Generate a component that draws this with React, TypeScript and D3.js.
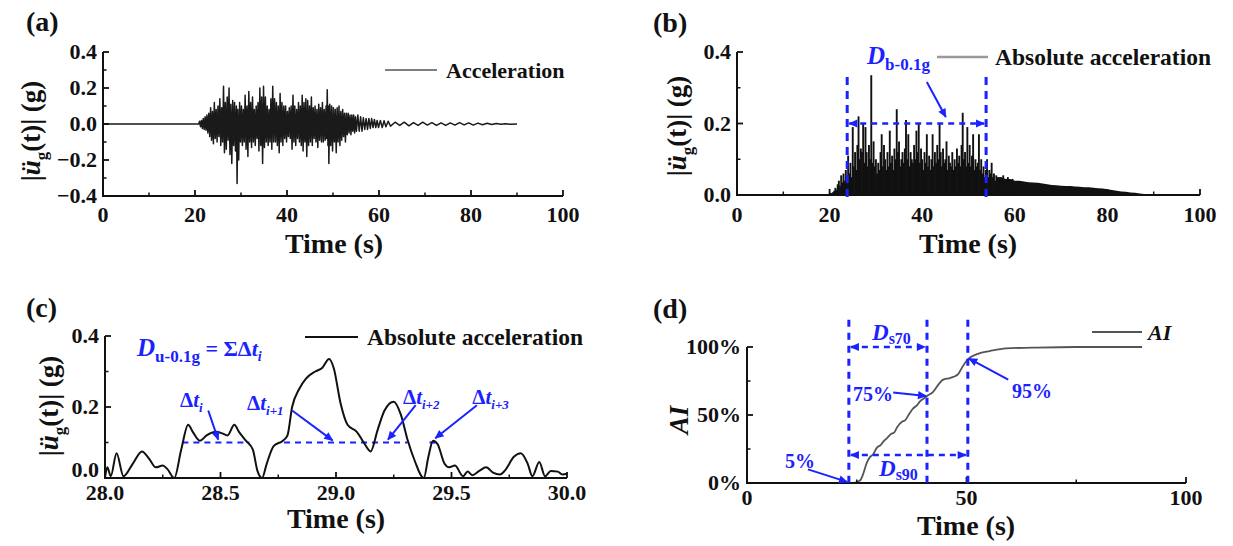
import React from 'react';
import * as d3 from 'd3';

const FONT = '"Liberation Serif", "Times New Roman", serif';
const BLUE = '#1a22ff';
const INK = '#111';

// (a) ground acceleration: successive extrema [time s, acceleration g]
const accelPoints: [number, number][] = [
  [0, 0], [20.8, 0],
  [21.0, 0.015], [21.2, -0.015], [21.4, 0.02], [21.6, -0.025], [21.8, 0.03], [22.0, -0.03], [22.2, 0.04], [22.4, -0.035],
  [22.6, 0.05], [22.8, -0.05], [23.0, 0.06], [23.2, -0.07], [23.4, 0.09], [23.6, -0.09], [23.8, 0.07], [24.0, -0.11],
  [24.2, 0.12], [24.4, -0.08], [24.6, 0.08], [24.8, -0.1], [25.0, 0.1], [25.2, -0.07], [25.4, 0.14], [25.6, -0.12],
  [25.8, 0.09], [26.0, -0.1], [26.2, 0.21], [26.4, -0.16], [26.6, 0.12], [26.8, -0.14], [27.0, 0.15], [27.2, -0.09],
  [27.4, 0.2], [27.6, -0.17], [27.8, 0.11], [28.0, -0.22], [28.2, 0.13], [28.4, -0.12], [28.6, 0.12], [28.8, -0.15],
  [29.0, 0.1], [29.15, -0.33], [29.3, 0.08], [29.5, -0.2], [29.7, 0.12], [29.9, -0.1], [30.1, 0.1], [30.3, -0.12],
  [30.5, 0.08], [30.7, -0.1], [30.9, 0.16], [31.1, -0.14], [31.3, 0.1], [31.5, -0.18], [31.7, 0.18], [31.9, -0.1],
  [32.1, 0.12], [32.3, -0.13], [32.5, 0.15], [32.7, -0.1], [32.9, 0.08], [33.1, -0.12], [33.3, 0.1], [33.5, -0.08],
  [33.7, 0.12], [33.9, -0.15], [34.1, 0.2], [34.3, -0.12], [34.5, 0.15], [34.7, -0.22], [34.9, 0.21], [35.1, -0.13],
  [35.3, 0.15], [35.5, -0.1], [35.7, 0.1], [35.9, -0.12], [36.1, 0.08], [36.3, -0.1], [36.5, 0.14], [36.7, -0.14],
  [36.9, 0.21], [37.1, -0.1], [37.3, 0.14], [37.5, -0.1], [37.7, 0.12], [37.9, -0.12], [38.1, 0.1], [38.3, -0.16],
  [38.5, 0.17], [38.7, -0.1], [38.9, 0.12], [39.1, -0.12], [39.3, 0.1], [39.5, -0.08], [39.7, 0.1], [39.9, -0.1],
  [40.1, 0.07], [40.3, -0.07], [40.5, 0.09], [40.7, -0.08], [40.9, 0.1], [41.1, -0.14], [41.3, 0.16], [41.5, -0.1],
  [41.7, 0.1], [41.9, -0.12], [42.1, 0.08], [42.3, -0.08], [42.5, 0.12], [42.7, -0.1], [42.9, 0.1], [43.1, -0.12],
  [43.3, 0.16], [43.5, -0.15], [43.7, 0.12], [43.9, -0.1], [44.1, 0.14], [44.3, -0.18], [44.5, 0.13], [44.7, -0.12],
  [44.9, 0.1], [45.1, -0.1], [45.3, 0.15], [45.5, -0.12], [45.7, 0.09], [45.9, -0.08], [46.1, 0.1], [46.3, -0.1],
  [46.5, 0.08], [46.7, -0.13], [46.9, 0.11], [47.1, -0.09], [47.3, 0.09], [47.5, -0.1], [47.7, 0.12], [47.9, -0.1],
  [48.1, 0.08], [48.3, -0.09], [48.5, 0.1], [48.6, -0.08], [48.75, 0.19], [48.9, -0.12], [49.0, 0.1], [49.1, -0.22],
  [49.3, 0.11], [49.5, -0.12], [49.7, 0.1], [49.9, -0.15], [50.1, 0.09], [50.3, -0.1], [50.5, 0.08], [50.7, -0.16],
  [50.9, 0.09], [51.1, -0.1], [51.3, 0.1], [51.5, -0.12], [51.7, 0.07], [51.9, -0.09], [52.1, 0.08], [52.3, -0.07],
  [52.5, 0.06], [52.7, -0.1], [52.9, 0.06], [53.1, -0.06], [53.3, 0.06], [53.5, -0.05], [53.7, 0.05], [53.9, -0.06],
  [54.1, 0.05], [54.3, -0.04], [54.5, 0.05], [54.7, -0.05], [54.9, 0.04], [55.1, -0.04], [55.4, 0.05], [55.7, -0.04],
  [56.0, 0.04], [56.3, -0.04], [56.6, 0.035], [56.9, -0.03], [57.2, 0.03], [57.5, -0.03], [57.8, 0.03], [58.1, -0.025],
  [58.4, 0.03], [58.7, -0.02], [59.0, 0.025], [59.3, -0.02], [59.6, 0.02], [59.9, -0.02], [60.3, 0.02], [60.7, -0.02],
  [61.1, 0.018], [61.5, -0.015], [62.0, 0.015], [62.5, -0.012], [63.5, 0.01], [64.5, -0.008], [65.5, 0.01], [66.5, -0.01],
  [67.5, 0.008], [68.5, -0.008], [69.5, 0.01], [70.5, -0.006], [71.5, 0.008], [72.5, -0.008], [73.5, 0.006], [74.5, -0.008],
  [75.5, 0.006], [76.5, -0.006], [77.5, 0.008], [78.5, -0.005], [79.5, 0.006], [80.5, -0.006], [81.5, 0.005], [82.5, -0.004],
  [83.5, 0.004], [84.5, -0.003], [85.5, 0.003], [86.5, -0.002], [87.5, 0.002], [88.5, -0.001], [90, 0],
];

// (b) absolute acceleration, strong phase sampled every 0.25 s from 20 s
const absStart = 20;
const absStep = 0.25;
const absStrong = [
  0.004, 0.006, 0.005, 0.008, 0.012, 0.02, 0.015, 0.03,
  0.04, 0.025, 0.055, 0.035, 0.06, 0.04, 0.07, 0.05,
  0.11, 0.06, 0.09, 0.05, 0.19, 0.08, 0.12, 0.07,
  0.14, 0.22, 0.1, 0.13, 0.12, 0.2, 0.09, 0.19,
  0.12, 0.08, 0.14, 0.1, 0.335, 0.09, 0.15, 0.08,
  0.1, 0.06, 0.09, 0.07, 0.12, 0.17, 0.08, 0.14,
  0.1, 0.07, 0.12, 0.08, 0.18, 0.09, 0.11, 0.07,
  0.13, 0.1, 0.24, 0.12, 0.15, 0.08, 0.1, 0.12,
  0.09, 0.13, 0.21, 0.1, 0.17, 0.08, 0.12, 0.1,
  0.09, 0.14, 0.1, 0.18, 0.12, 0.2, 0.09, 0.13,
  0.1, 0.07, 0.12, 0.09, 0.17, 0.08, 0.11, 0.07,
  0.1, 0.17, 0.08, 0.12, 0.09, 0.14, 0.1, 0.2,
  0.12, 0.08, 0.13, 0.09, 0.1, 0.15, 0.07, 0.11,
  0.09, 0.08, 0.12, 0.07, 0.1, 0.08, 0.13, 0.09,
  0.11, 0.08, 0.14, 0.23, 0.1, 0.12, 0.08, 0.19,
  0.09, 0.14, 0.08, 0.11, 0.17, 0.07, 0.1, 0.08,
  0.09, 0.17, 0.07, 0.1, 0.06, 0.08, 0.05, 0.07,
  0.1, 0.05, 0.07, 0.06, 0.09, 0.05, 0.06, 0.04,
  0.055, 0.04, 0.05, 0.035, 0.05, 0.03, 0.055, 0.04,
  0.045, 0.03, 0.05, 0.035, 0.04, 0.03, 0.045, 0.03,
];
// (b) coda envelope, one value per second from 56 s
const absTailStart = 56;
const absTail = [
  0.05, 0.05, 0.045, 0.045, 0.04, 0.04, 0.038, 0.036, 0.035, 0.034,
  0.032, 0.03, 0.028, 0.027, 0.026, 0.025, 0.025, 0.024, 0.023, 0.022,
  0.022, 0.02, 0.019, 0.018, 0.016, 0.014, 0.012, 0.01, 0.009, 0.007,
  0.006, 0.004, 0.003, 0.002, 0.0,
];
// (b) bracketed duration bounds (s) and threshold (g)
const bracketStart = 23.8;
const bracketEnd = 53.8;
const bracketLevel = 0.2;

// (c) absolute acceleration, 28-30 s
const zoomPoints: [number, number][] = [
  [28.0, 0.0], [28.01, 0.03], [28.025, 0.005], [28.05, 0.07], [28.08, 0.005], [28.12, 0.04], [28.16, 0.075],
  [28.19, 0.055], [28.22, 0.03], [28.25, 0.035], [28.27, 0.025], [28.3, 0.0], [28.33, 0.08], [28.36, 0.15],
  [28.38, 0.13], [28.41, 0.105], [28.44, 0.12], [28.48, 0.13], [28.51, 0.125], [28.53, 0.12], [28.56, 0.15],
  [28.58, 0.13], [28.61, 0.105], [28.64, 0.08], [28.66, 0.02], [28.68, 0.0], [28.7, 0.04], [28.73, 0.09],
  [28.77, 0.105], [28.79, 0.12], [28.81, 0.2], [28.84, 0.25], [28.87, 0.28], [28.91, 0.3], [28.94, 0.31],
  [28.97, 0.335], [28.99, 0.31], [29.02, 0.21], [29.05, 0.15], [29.09, 0.13], [29.12, 0.1], [29.15, 0.075],
  [29.18, 0.135], [29.21, 0.19], [29.25, 0.215], [29.28, 0.18], [29.31, 0.107], [29.34, 0.05], [29.38, 0.0],
  [29.4, 0.06], [29.42, 0.105], [29.44, 0.095], [29.47, 0.04], [29.49, 0.03], [29.515, 0.035], [29.55, 0.005],
  [29.57, 0.018], [29.59, 0.008], [29.62, 0.02], [29.65, 0.03], [29.68, 0.015], [29.71, 0.01], [29.73, 0.02],
  [29.77, 0.06], [29.8, 0.07], [29.83, 0.04], [29.85, 0.005], [29.88, 0.045], [29.905, 0.005], [29.93, 0.02],
  [29.96, 0.018], [29.98, 0.01], [30.0, 0.012],
];
// (c) exceedance intervals above 0.1 g [from, to]
const exceedLevel = 0.1;
const exceedSpans: [number, number][] = [[28.335, 28.625], [28.775, 29.31], [29.405, 29.44]];
// (c) interval callouts: label position, arrow tail, arrow tip (t, g) and subscript
const intervalNotes = [
  { sub: 'i', label: [28.325, 0.2], from: [28.447, 0.19], to: [28.49, 0.108] },
  { sub: 'i+1', label: [28.615, 0.192], from: [28.81, 0.19], to: [28.985, 0.106] },
  { sub: 'i+2', label: [29.29, 0.208], from: [29.345, 0.205], to: [29.225, 0.108] },
  { sub: 'i+3', label: [29.59, 0.208], from: [29.61, 0.205], to: [29.43, 0.112] },
];

// (d) Arias intensity, normalised [time s, AI]
const ariasPoints: [number, number][] = [
  [0, 0], [24.2, 0], [25.8, 0.02], [26.5, 0.07], [27.3, 0.15], [28.0, 0.19], [28.7, 0.21], [29.6, 0.26],
  [30.5, 0.28], [31.2, 0.31], [31.9, 0.33], [32.8, 0.36], [33.5, 0.37], [34.2, 0.41], [35.3, 0.45],
  [36.0, 0.46], [36.8, 0.5], [37.9, 0.55], [38.7, 0.57], [39.4, 0.6], [40.2, 0.62], [41.0, 0.64],
  [42.4, 0.67], [43.5, 0.72], [44.7, 0.76], [46.0, 0.77], [47.0, 0.78], [48.1, 0.8], [49.0, 0.85],
  [50.3, 0.91], [52.6, 0.95], [55.3, 0.97], [59.0, 0.99], [65.0, 0.995], [75.0, 1.0], [90.0, 1.0],
];
// (d) significant-duration bounds (s)
const t05 = 23.2;
const t75 = 41.0;
const t95 = 50.3;

// tick values
const ticks100 = [0, 20, 40, 60, 80, 100];
const minor100 = [10, 30, 50, 70, 90];
const ticksA = [-0.4, -0.2, 0.0, 0.2, 0.4];
const minorA = [-0.3, -0.1, 0.1, 0.3];
const ticksB = [0.0, 0.2, 0.4];
const minorB = [0.1, 0.3];
const ticksCx = [28.0, 28.5, 29.0, 29.5, 30.0];
const minorCx = [28.25, 28.75, 29.25, 29.75];
const ticksDx = [0, 50, 100];
const minorDx = [25, 75];
const ticksDy = [0, 0.5, 1];
const minorDy = [0.25, 0.75];

type Sc = d3.ScaleLinear<number, number>;

interface AxesProps {
  x: Sc; y: Sc;
  xMajor: number[]; xMinor: number[];
  yMajor: number[]; yMinor: number[];
  xFmt: (v: number) => string; yFmt: (v: number) => string;
  xLabelDy: number;
  baseLift?: number;
}

function Axes({ x, y, xMajor, xMinor, yMajor, yMinor, xFmt, yFmt, xLabelDy, baseLift = 0 }: AxesProps) {
  const [x0, x1] = x.range();
  const [yb, yt] = y.range();
  return (
    <g>
      <path d={`M${x0},${yt}V${yb}H${x1}`} fill="none" stroke={INK} strokeWidth={2} />
      {xMajor.map((t) => (
        <line key={'xm' + t} x1={x(t)} x2={x(t)} y1={yb} y2={yb - 6} stroke={INK} strokeWidth={1.8} />
      ))}
      {xMinor.map((t) => (
        <line key={'xn' + t} x1={x(t)} x2={x(t)} y1={yb} y2={yb - 3.5} stroke={INK} strokeWidth={1.5} />
      ))}
      {yMajor.map((v) => (
        <line key={'ym' + v} x1={x0} x2={x0 + 6} y1={y(v)} y2={y(v)} stroke={INK} strokeWidth={1.8} />
      ))}
      {yMinor.map((v) => (
        <line key={'yn' + v} x1={x0} x2={x0 + 3.5} y1={y(v)} y2={y(v)} stroke={INK} strokeWidth={1.5} />
      ))}
      {xMajor.map((t) => (
        <text key={'xl' + t} x={x(t)} y={yb + xLabelDy} textAnchor="middle" fontSize={22} fontWeight="bold" fill={INK}>
          {xFmt(t)}
        </text>
      ))}
      {yMajor.map((v, i) => (
        <text key={'yl' + v} x={x0 - 6} y={y(v) - (i === 0 ? baseLift : 0)} dy="0.33em" textAnchor="end"
          fontSize={22} fontWeight="bold" fill={INK}>
          {yFmt(v)}
        </text>
      ))}
    </g>
  );
}

function AccelTitle({ cx, cy }: { cx: number; cy: number }) {
  return (
    <text transform={`translate(${cx},${cy}) rotate(-90)`} textAnchor="middle" dy="0.35em" fontSize={27} fontWeight="bold" fill={INK}>
      |<tspan fontStyle="italic">ü</tspan>
      <tspan fontSize={17} dy={7}>g</tspan>
      <tspan dy={-7}>(t)| (g)</tspan>
    </text>
  );
}

function TimeTitle({ x, y }: { x: number; y: number }) {
  return (
    <text x={x} y={y} textAnchor="middle" fontSize={28} fontWeight="bold" fill={INK}>
      Time (s)
    </text>
  );
}

function PanelTag({ x, y, tag }: { x: number; y: number; tag: string }) {
  return (
    <text x={x} y={y} fontSize={28} fontWeight="bold" fill={INK}>
      ({tag})
    </text>
  );
}

const f1 = d3.format('.1f');

export default function App() {
  // scales for the four panels
  const xA = d3.scaleLinear().domain([0, 100]).range([103, 563]);
  const yA = d3.scaleLinear().domain([-0.4, 0.4]).range([196, 52]);
  const xB = d3.scaleLinear().domain([0, 100]).range([737, 1200]);
  const yB = d3.scaleLinear().domain([0, 0.4]).range([195, 52]);
  const xC = d3.scaleLinear().domain([28, 30]).range([105, 567]);
  const yC = d3.scaleLinear().domain([0, 0.4]).range([478, 336]);
  const xD = d3.scaleLinear().domain([0, 100]).range([747, 1186]);
  const yD = d3.scaleLinear().domain([0, 1]).range([483, 347]);

  const lineA = d3.line<[number, number]>().x((d) => xA(d[0])).y((d) => yA(d[1]));
  const lineC = d3.line<[number, number]>().x((d) => xC(d[0])).y((d) => yC(d[1])).curve(d3.curveMonotoneX);
  const lineD = d3.line<[number, number]>().x((d) => xD(d[0])).y((d) => yD(d[1])).curve(d3.curveMonotoneX);
  const tailArea = d3
    .area<number>()
    .x((_, i) => xB(absTailStart + i))
    .y0(yB(0))
    .y1((v) => yB(v));

  const dash = { stroke: BLUE, strokeWidth: 2.6, strokeDasharray: '6 5', fill: 'none' };
  const solid = { stroke: BLUE, strokeWidth: 2, fill: 'none' };

  return (
    <svg
      width={1233}
      height={546}
      viewBox="0 0 1233 546"
      style={{ position: 'absolute', left: 0, top: 0, background: '#fff', fontFamily: FONT }}
    >
      <defs>
        <marker id="tip" viewBox="0 0 10 10" refX="9" refY="5" markerWidth="10" markerHeight="9"
          markerUnits="userSpaceOnUse" orient="auto-start-reverse">
          <path d="M0,0.5 L10,5 L0,9.5 z" fill={BLUE} />
        </marker>
      </defs>

      {/* (a) ground acceleration */}
      <PanelTag x={26} y={31} tag="a" />
      <path d={lineA(accelPoints) ?? ''} fill="none" stroke="#1a1a1a" strokeWidth={1.5} strokeLinejoin="round" />
      <Axes x={xA} y={yA} xMajor={ticks100} xMinor={minor100} yMajor={ticksA} yMinor={minorA}
        xFmt={(v) => String(v)} yFmt={f1} xLabelDy={26} />
      <AccelTitle cx={31} cy={131} />
      <TimeTitle x={334} y={253} />
      <line x1={385} x2={437} y1={70} y2={70} stroke="#555" strokeWidth={1.5} />
      <text x={446} y={78} fontSize={22} fontWeight="bold" fill={INK}>Acceleration</text>

      {/* (b) absolute acceleration with bracketed duration */}
      <PanelTag x={653} y={32} tag="b" />
      <path d={tailArea(absTail) ?? ''} fill={INK} />
      {absStrong.map((v, i) => {
        const x = xB(absStart + i * absStep);
        return <line key={i} x1={x} x2={x} y1={yB(0)} y2={yB(v)} stroke={INK} strokeWidth={1.9} />;
      })}
      <Axes x={xB} y={yB} xMajor={ticks100} xMinor={minor100} yMajor={ticksB} yMinor={minorB}
        xFmt={(v) => String(v)} yFmt={f1} xLabelDy={27} />
      <AccelTitle cx={677} cy={126} />
      <TimeTitle x={968} y={253} />
      <line x1={xB(bracketStart)} x2={xB(bracketStart)} y1={yB(0.33)} y2={yB(-0.015)} {...dash} strokeWidth={3} strokeDasharray="8 6" />
      <line x1={xB(bracketEnd)} x2={xB(bracketEnd)} y1={yB(0.33)} y2={yB(-0.015)} {...dash} strokeWidth={3} strokeDasharray="8 6" />
      <line x1={xB(bracketStart) + 2} x2={xB(bracketEnd) - 2} y1={yB(bracketLevel)} y2={yB(bracketLevel)}
        {...dash} markerStart="url(#tip)" markerEnd="url(#tip)" />
      <line x1={xB(41.0)} y1={yB(0.316)} x2={xB(45.1)} y2={yB(0.218)} {...solid} markerEnd="url(#tip)" />
      <text x={867} y={64} fill={BLUE} fontWeight="bold">
        <tspan fontSize={25} fontStyle="italic">D</tspan>
        <tspan fontSize={17} dy={6}>b-0.1g</tspan>
      </text>
      <line x1={937} x2={988} y1={57} y2={57} stroke="#999" strokeWidth={2.5} />
      <text x={995} y={65} fontSize={23.5} fontWeight="bold" fill={INK}>Absolute acceleration</text>

      {/* (c) zoomed window with exceedance intervals */}
      <PanelTag x={26} y={317} tag="c" />
      {exceedSpans.map(([a, b], i) => (
        <line key={i} x1={xC(a)} x2={xC(b)} y1={yC(exceedLevel)} y2={yC(exceedLevel)} {...dash} strokeWidth={2.2} />
      ))}
      <path d={lineC(zoomPoints) ?? ''} fill="none" stroke={INK} strokeWidth={2} />
      <Axes x={xC} y={yC} xMajor={ticksCx} xMinor={minorCx} yMajor={ticksB} yMinor={minorB}
        xFmt={f1} yFmt={f1} xLabelDy={22} baseLift={8} />
      <AccelTitle cx={49} cy={406} />
      <TimeTitle x={336} y={528} />
      {intervalNotes.map((n) => (
        <g key={n.sub}>
          <line x1={xC(n.from[0])} y1={yC(n.from[1])} x2={xC(n.to[0])} y2={yC(n.to[1])} {...solid} markerEnd="url(#tip)" />
          <text x={xC(n.label[0])} y={yC(n.label[1])} fill={BLUE} fontWeight="bold" fontSize={21}>
            Δ<tspan fontStyle="italic">t</tspan>
            <tspan fontSize={13} fontStyle="italic" dy={5}>{n.sub}</tspan>
          </text>
        </g>
      ))}
      <text x={137} y={356} fill={BLUE} fontWeight="bold">
        <tspan fontSize={25} fontStyle="italic">D</tspan>
        <tspan fontSize={17} dy={6}>u-0.1g</tspan>
        <tspan fontSize={22} dy={-6}> = ΣΔ</tspan>
        <tspan fontSize={22} fontStyle="italic">t</tspan>
        <tspan fontSize={14} fontStyle="italic" dy={5}>i</tspan>
      </text>
      <line x1={305} x2={358} y1={337} y2={337} stroke={INK} strokeWidth={2} />
      <text x={367} y={345} fontSize={23.5} fontWeight="bold" fill={INK}>Absolute acceleration</text>

      {/* (d) Arias intensity and significant durations */}
      <PanelTag x={653} y={318} tag="d" />
      <path d={lineD(ariasPoints) ?? ''} fill="none" stroke="#555" strokeWidth={1.8} />
      <Axes x={xD} y={yD} xMajor={ticksDx} xMinor={minorDx} yMajor={ticksDy} yMinor={minorDy}
        xFmt={(v) => String(v)} yFmt={d3.format('.0%')} xLabelDy={22} />
      <text transform="translate(679,420) rotate(-90)" textAnchor="middle" dy="0.35em" fontSize={27}
        fontWeight="bold" fontStyle="italic" fill={INK}>AI</text>
      <TimeTitle x={966} y={535} />
      {[t05, t75, t95].map((t) => (
        <line key={t} x1={xD(t)} x2={xD(t)} y1={yD(1.2)} y2={yD(0)} {...dash} strokeWidth={3} strokeDasharray="7 6" />
      ))}
      <line x1={xD(t05) + 2} x2={xD(t75) - 2} y1={yD(1)} y2={yD(1)} {...dash} markerStart="url(#tip)" markerEnd="url(#tip)" />
      <line x1={xD(t05) + 2} x2={xD(t95) - 2} y1={yD(0.206)} y2={yD(0.206)} {...dash} markerStart="url(#tip)" markerEnd="url(#tip)" />
      <text x={872} y={340} fill={BLUE} fontWeight="bold">
        <tspan fontSize={23} fontStyle="italic">D</tspan>
        <tspan fontSize={16} dy={4}>s70</tspan>
      </text>
      <text x={879} y={476} fill={BLUE} fontWeight="bold">
        <tspan fontSize={23} fontStyle="italic">D</tspan>
        <tspan fontSize={16} dy={4}>s90</tspan>
      </text>
      <line x1={xD(13.9)} y1={yD(0.1)} x2={xD(22.8)} y2={yD(0.008)} {...solid} markerEnd="url(#tip)" />
      <text x={785} y={468} fontSize={20} fontWeight="bold" fill={BLUE}>5%</text>
      <line x1={xD(33.3)} y1={yD(0.665)} x2={xD(40.8)} y2={yD(0.64)} {...solid} markerEnd="url(#tip)" />
      <text x={853} y={401} fontSize={20} fontWeight="bold" fill={BLUE}>75%</text>
      <line x1={xD(59.5)} y1={yD(0.76)} x2={xD(50.6)} y2={yD(0.915)} {...solid} markerEnd="url(#tip)" />
      <text x={1012} y={398} fontSize={20} fontWeight="bold" fill={BLUE}>95%</text>
      <line x1={1092} x2={1142} y1={332} y2={332} stroke="#555" strokeWidth={2} />
      <text x={1148} y={340} fontSize={22} fontWeight="bold" fontStyle="italic" fill={INK}>AI</text>
    </svg>
  );
}
